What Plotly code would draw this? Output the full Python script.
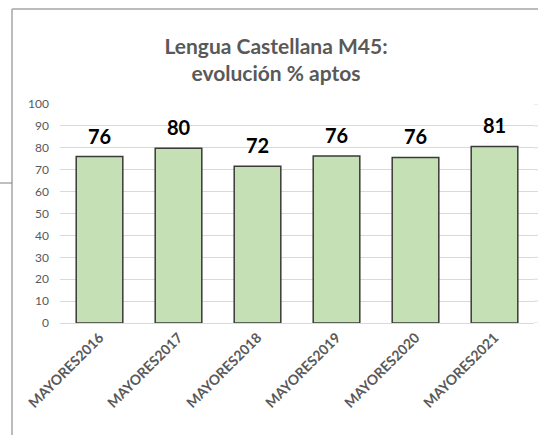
import plotly.graph_objects as go

categories = ["MAYORES2016", "MAYORES2017", "MAYORES2018", "MAYORES2019", "MAYORES2020", "MAYORES2021"]
aptos = [76.0, 79.8, 71.6, 76.2, 75.6, 80.6]
y_ticks = [0, 10, 20, 30, 40, 50, 60, 70, 80, 90, 100]

# figure fills the window; plot area in pixels: x 60..534, y 104..323
W, H = 538, 435
L, T = 60, 104
pw, ph = 474, 219
R, B = W - L - pw, H - T - ph


def px_x(p):
    return (p - L) / pw


def px_y(p):
    return (T + ph - p) / ph


fig = go.Figure(
    go.Bar(
        x=categories,
        y=aptos,
        marker={"color": "#c5e0b4", "line": {"color": "#3a3a3a", "width": 1.5}},
        width=0.59,
    )
)

# data labels above the bars
for c, v in zip(categories, aptos):
    fig.add_annotation(
        x=c, y=v, text=f"{v:.0f}", showarrow=False,
        yanchor="bottom", yshift=7,
        font={"family": "Lato", "size": 20, "color": "#000000", "weight": "bold"},
    )

fig.update_layout(
    width=W,
    height=H,
    margin={"l": L, "r": R, "t": T, "b": B, "autoexpand": False},
    paper_bgcolor="white",
    plot_bgcolor="white",
    showlegend=False,
    font={"family": "Lato", "color": "#595959"},
    title={
        "text": "Lengua Castellana M45:<br>evolución % aptos",
        "x": 276 / W,
        "xanchor": "center",
        "y": 1 - 54 / H,
        "yanchor": "middle",
        "font": {"family": "Lato", "size": 21, "color": "#595959", "weight": "bold"},
    },
    xaxis={
        "tickangle": -45,
        "tickfont": {"size": 14, "color": "#595959", "weight": "bold"},
        "showline": True,
        "linecolor": "#d9d9d9",
        "linewidth": 1,
        "ticks": "",
        "automargin": False,
    },
    yaxis={
        "range": [0, 100],
        "tickvals": y_ticks,
        "tickfont": {"size": 12, "color": "#595959"},
        "gridcolor": "#d9d9d9",
        "gridwidth": 1,
        "zeroline": False,
        "ticklabelstandoff": 10,
        "automargin": False,
    },
    shapes=[
        # chart frame (left and top edges)
        {"type": "line", "xref": "paper", "yref": "paper",
         "x0": px_x(12), "x1": px_x(12), "y0": px_y(9), "y1": px_y(440),
         "line": {"color": "#a6a6a6", "width": 1.5}},
        {"type": "line", "xref": "paper", "yref": "paper",
         "x0": px_x(12), "x1": px_x(545), "y0": px_y(9), "y1": px_y(9),
         "line": {"color": "#a6a6a6", "width": 1.5}},
        {"type": "line", "xref": "paper", "yref": "paper",
         "x0": px_x(0), "x1": px_x(12), "y0": px_y(183), "y1": px_y(183),
         "line": {"color": "#808080", "width": 1}},
        # gridlines run on to the right edge
        *[
            {"type": "line", "xref": "paper", "yref": "y",
             "x0": 1, "x1": px_x(545), "y0": v, "y1": v,
             "line": {"color": "#d9d9d9", "width": 1}}
            for v in y_ticks
        ],
    ],
)

# drop the default body margin so the figure sits at the window origin
fig.write_html(
    "out.html",
    config={"displayModeBar": False},
    post_script="document.body.style.margin='0';document.body.style.overflow='hidden';",
)
